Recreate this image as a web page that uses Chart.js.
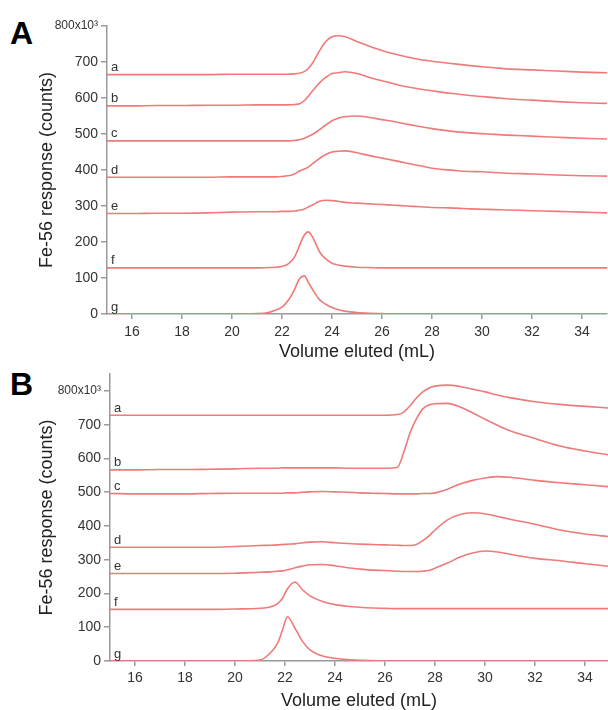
<!DOCTYPE html>
<html lang="en">
<head>
<meta charset="UTF-8">
<title>Fe-56 elution profiles</title>
<script src="https://cdn.jsdelivr.net/npm/chart.js"></script>
<style>
  html, body { margin: 0; padding: 0; background: #fff; overflow: hidden; }
  body { width: 608px; height: 710px; position: relative; font-family: "Liberation Sans", Arial, sans-serif; }
  canvas { position: absolute; left: 0; }
  #chartA { top: 0; }
  #chartB { top: 360px; }
  .panel { position: absolute; left: 10px; font-weight: bold; font-size: 32px; color: #000; line-height: 1; }
</style>
</head>
<body>
<div class="panel" style="top:17px">A</div>
<div class="panel" style="top:368px">B</div>
<canvas id="chartA" width="608" height="365"></canvas>
<canvas id="chartB" width="608" height="352"></canvas>

<script>
// volume axis (mL) for each panel
const volumesA = [15,16,17,18,19,20,21,21.5,21.75,22,22.25,22.5,22.7,22.9,23.05,23.25,23.5,23.75,24,24.25,24.5,25,25.5,26,26.5,27,27.5,28,28.5,29,29.5,30,30.5,31,32,33,34,35];
const volumesB = [15,16,17,18,19,20,21,21.4,21.7,21.9,22.1,22.4,22.7,23,23.5,24,24.5,25,25.5,26,26.5,26.75,27,27.25,27.5,27.75,28,28.5,29,29.5,30,30.5,31,32,33,34,35];

const curveNames = ['a', 'b', 'c', 'd', 'e', 'f', 'g'];

// panel A, Fe-56 counts x1000
const curveA_a = [665,665,665,665,665,666,666,666,666,666,666,667,669,674,682,700,731,757,770,773,771,757,744,732,722,714,707,702,698,694,690,687,684,681,678,675,672,670];
const curveA_b = [578,578,579,579,580,580,581,581,581,581,581,582,584,593,605,622,642,657,668,670,673,668,657,648,639,631,625,620,615,611,607,604,601,598,594,590,587,585];
const curveA_c = [481,481,481,481,481,481,481,481,481,481,481,482,484,488,493,500,512,525,537,544,548,550,546,540,534,527,521,515,510,506,503,501,499,497,494,491,488,486];
const curveA_d = [380,380,380,380,380,381,381,381,381,382,384,389,397,403,408,419,432,443,450,452,453,448,440,433,426,419,412,405,401,398,396,395,393,391,389,386,384,383];
const curveA_e = [279,279,280,280,281,283,284,284,284,285,285,286,288,292,297,304,313,316,315,313,310,308,306,304,302,300,298,296,295,294,292,291,290,289,287,285,283,281];
const curveA_f = [128,128,128,128,128,128,128,129,130,132,139,158,190,220,228,210,173,153,141,136,133,130,129,128,128,128,128,128,128,128,128,128,128,128,128,128,128,128];
const curveA_g = [0,0,0,0,0,0,1,5,11,19,38,68,98,106,88,65,40,27,18,12,8,4,2,1,0,0,0,0,0,0,0,0,0,0,0,0,0,0];

// panel B, Fe-56 counts x1000
const curveB_a = [728,728,728,728,728,728,728,728,728,728,728,728,728,728,728,728,728,728,728,728,730,737,756,778,796,808,814,817,813,805,797,788,780,768,760,754,749];
const curveB_b = [566,566,567,567,568,569,571,571,571,572,572,572,572,572,572,572,571,571,571,571,574,618,675,716,746,758,762,763,752,735,716,698,682,659,637,622,610];
const curveB_c = [496,495,495,495,496,497,497,497,497,497,498,498,500,501,502,501,500,498,497,496,495,495,495,495,496,496,498,509,524,535,542,546,544,535,528,522,516];
const curveB_d = [337,337,337,337,337,339,342,343,344,345,346,347,350,352,353,350,348,346,345,344,343,342,342,345,356,370,388,418,434,439,436,428,420,405,388,376,368];
const curveB_e = [259,259,259,259,259,260,263,264,266,267,270,276,281,285,286,282,276,272,269,268,266,265,265,265,266,268,275,290,308,320,326,323,316,304,297,288,280];
const curveB_f = [153,153,153,153,153,154,156,160,170,186,214,234,211,193,176,167,162,159,157,156,155,155,155,155,155,155,155,155,155,155,155,155,155,155,155,155,155];
const curveB_g = [0,0,0,0,0,0,3,23,52,92,131,97,58,33,15,8,4,2,1,0,0,0,0,0,0,0,0,0,0,0,0,0,0,0,0,0,0];

const xTicks = [16,18,20,22,24,26,28,30,32,34];
const yTicks = [0,100,200,300,400,500,600,700,800];

const FONT = '"Liberation Sans", Arial, sans-serif';
const LINE = '#f07a7a';
const AXIS = '#9a9a9a';

// draws the a..g letters just above each trace's baseline
const curveLabels = {
  id: 'curveLabels',
  afterDatasetsDraw(chart) {
    const ctx = chart.ctx;
    const xs = chart.scales.x, ys = chart.scales.y;
    ctx.save();
    ctx.fillStyle = '#333';
    ctx.font = '13px ' + FONT;
    ctx.textAlign = 'left';
    ctx.textBaseline = 'middle';
    chart.data.datasets.forEach(ds => {
      const y = ys.getPixelForValue(ds.data[0].y) - 7;
      ctx.fillText(ds.label, xs.left + 4, y);
    });
    ctx.restore();
  }
};

function makeChart(id, volumes, curves, opts) {
  const datasets = curves.map((vals, i) => ({
    label: curveNames[i],
    data: volumes.map((v, j) => ({ x: v, y: vals[j] })),
    borderColor: LINE,
    borderWidth: 1.6,
    pointRadius: 0,
    fill: false,
    cubicInterpolationMode: 'monotone'
  }));

  return new Chart(document.getElementById(id), {
    type: 'line',
    data: { datasets },
    plugins: [curveLabels],
    options: {
      responsive: false,
      animation: false,
      devicePixelRatio: 1,
      layout: { padding: { left: 0, right: opts.padRight, top: opts.padTop, bottom: 0 } },
      plugins: { legend: { display: false }, tooltip: { enabled: false } },
      scales: {
        x: {
          type: 'linear',
          min: 15,
          max: opts.xMax,
          afterBuildTicks: s => { s.ticks = xTicks.map(v => ({ value: v })); },
          afterFit: s => { s.height = opts.xHeight; },
          grid: { display: true, drawOnChartArea: false, drawTicks: true, tickLength: 5, color: AXIS, lineWidth: 1.5 },
          border: { display: true, color: AXIS, width: 1.5 },
          ticks: { color: '#333', font: { family: FONT, size: 14 }, padding: opts.xTickPad, maxRotation: 0 },
          title: { display: true, text: 'Volume eluted (mL)', color: '#222', font: { family: FONT, size: 18 }, padding: { top: 0, bottom: opts.xTitlePad } }
        },
        y: {
          type: 'linear',
          min: 0,
          max: opts.yMax,
          afterBuildTicks: s => { s.ticks = yTicks.map(v => ({ value: v })); },
          afterFit: s => { s.width = opts.yWidth; },
          grid: { display: true, drawOnChartArea: false, drawTicks: true, tickLength: 6, color: AXIS, lineWidth: 1.5 },
          border: { display: true, color: AXIS, width: 1.5 },
          ticks: {
            color: '#333',
            padding: 3,
            font: c => ({ family: FONT, size: c.tick && c.tick.value === 800 ? 12 : 14 }),
            callback: v => v === 800 ? '800x10\u00B3' : String(v)
          },
          title: { display: true, text: 'Fe-56 response (counts)', color: '#222', font: { family: FONT, size: 18 }, padding: { top: 36, bottom: 0 } }
        }
      }
    }
  });
}

makeChart('chartA', volumesA,
  [curveA_a, curveA_b, curveA_c, curveA_d, curveA_e, curveA_f, curveA_g],
  { padTop: 26, padRight: 1, xMax: 35, yMax: 800, xHeight: 51, yWidth: 107, xTickPad: 5, xTitlePad: 2 });

makeChart('chartB', volumesB,
  [curveB_a, curveB_b, curveB_c, curveB_d, curveB_e, curveB_f, curveB_g],
  { padTop: 14, padRight: 0, xMax: 34.92, yMax: 850, xHeight: 51, yWidth: 110, xTickPad: 4, xTitlePad: 0 });
</script>
</body>
</html>
